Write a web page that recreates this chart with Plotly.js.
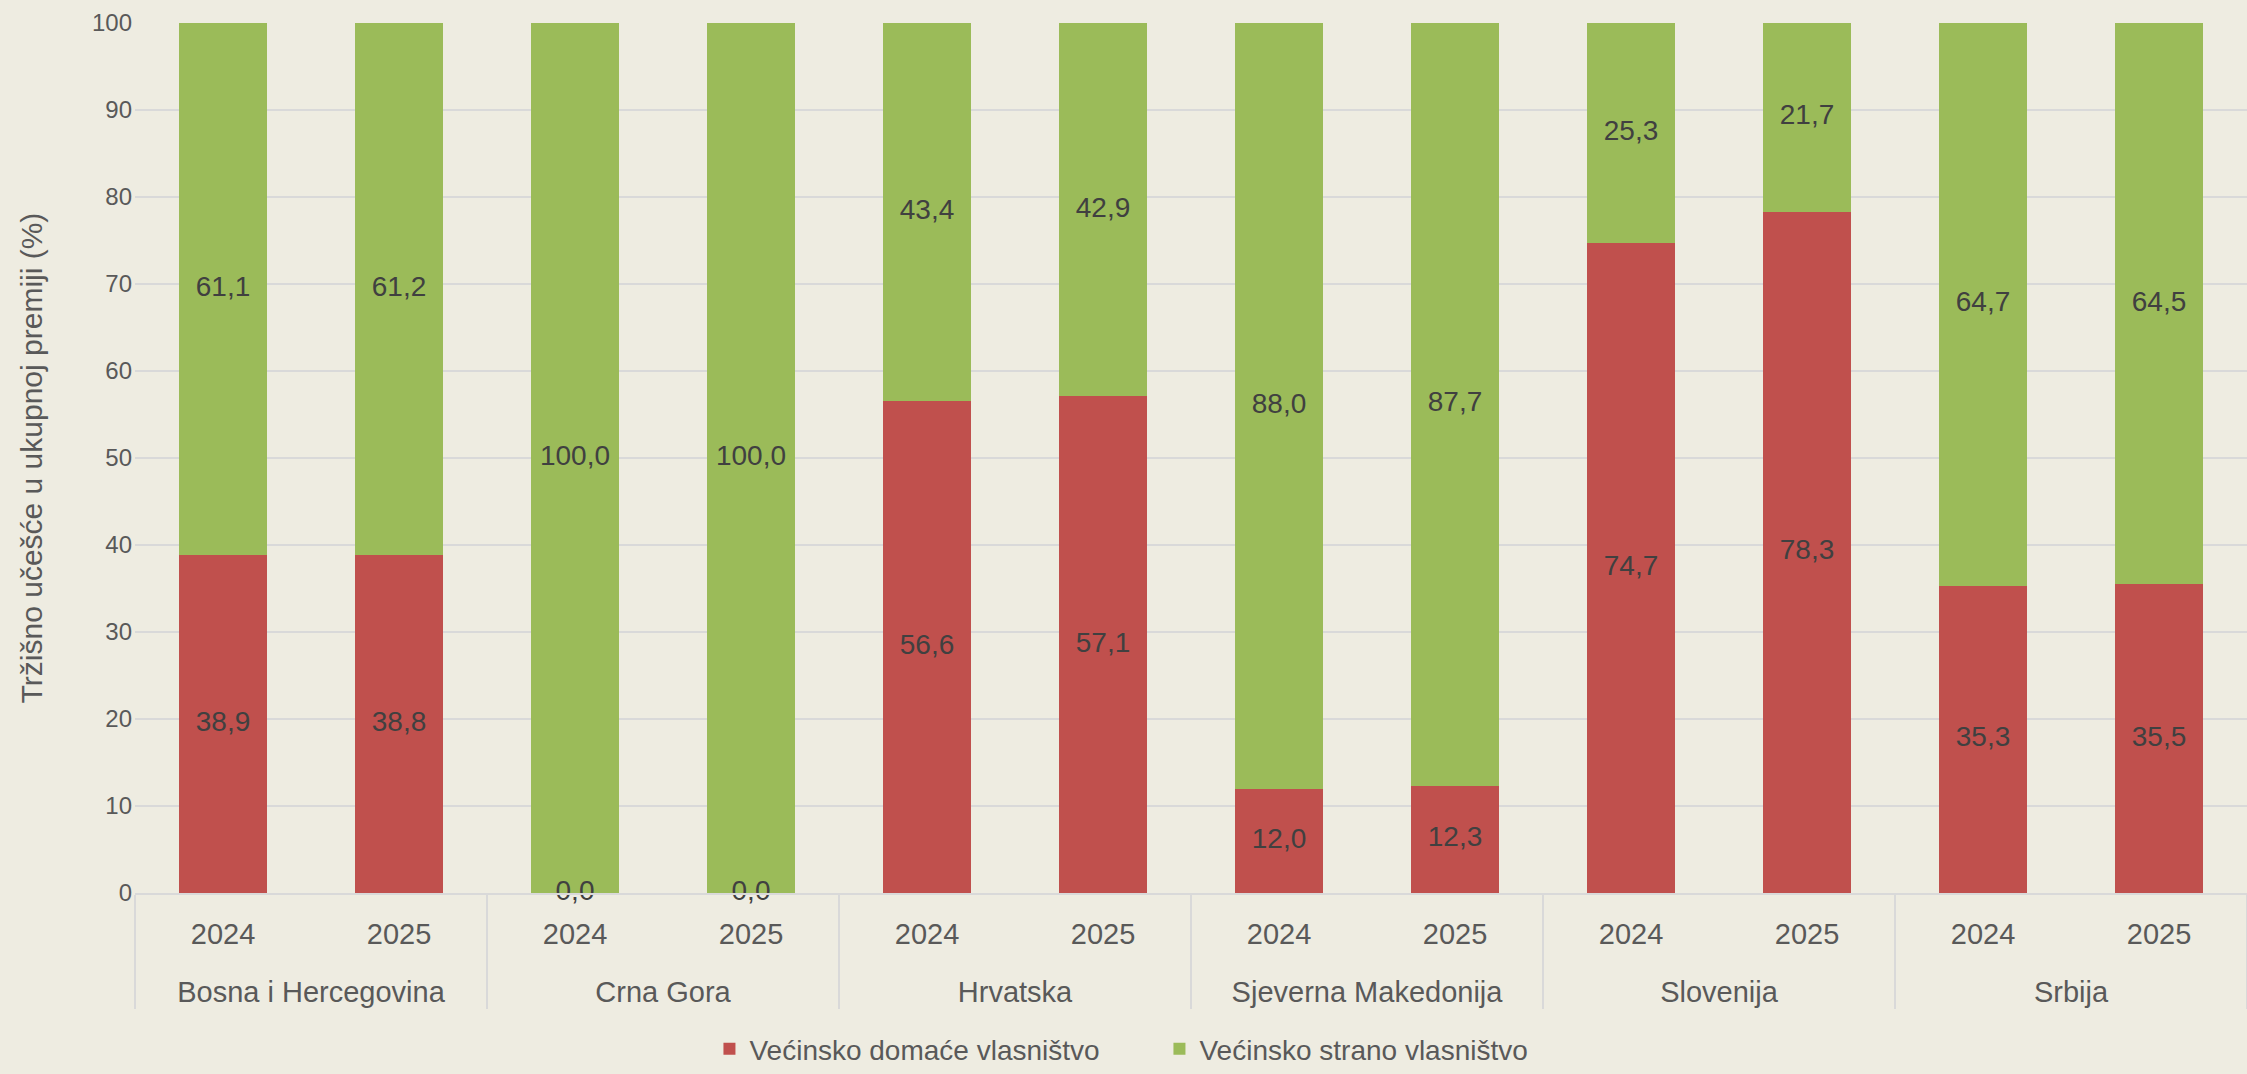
<!DOCTYPE html>
<html>
<head>
<meta charset="utf-8">
<script src="https://cdn.plot.ly/plotly-3.0.1.min.js"></script>
<style>html,body{margin:0;padding:0;background:#EEECE1;}#chart{width:2247px;height:1074px;}</style>
</head>
<body>
<div id="chart"></div>
<script>
const countries = ["Bosna i Hercegovina","Bosna i Hercegovina","Crna Gora","Crna Gora","Hrvatska","Hrvatska","Sjeverna Makedonija","Sjeverna Makedonija","Slovenija","Slovenija","Srbija","Srbija"];
const years = ["2024","2025","2024","2025","2024","2025","2024","2025","2024","2025","2024","2025"];
const domestic = [38.9, 38.8, 0.0, 0.0, 56.6, 57.1, 12.0, 12.3, 74.7, 78.3, 35.3, 35.5];
const foreign = [61.1, 61.2, 100.0, 100.0, 43.4, 42.9, 88.0, 87.7, 25.3, 21.7, 64.7, 64.5];
const seriesNames = ["Većinsko domaće vlasništvo", "Većinsko strano vlasništvo"];
const yTitle = "Tržišno učešće u ukupnoj premiji (%)";

const FONT = "'Liberation Sans Narrow', 'Liberation Sans', Arial, sans-serif";
const fmt = v => v.toFixed(1).replace('.', ',');
// second-level labels get an empty first line so they sit lower, like the original
const x = [countries.map(c => '<br>' + c), years];

const traces = [
  {type:'bar', name: seriesNames[0], x: x, y: domestic, marker:{color:'#C0504D'}, hoverinfo:'y'},
  {type:'bar', name: seriesNames[1], x: x, y: foreign, marker:{color:'#9BBB59'}, hoverinfo:'y'},
  {type:'scatter', mode:'text', x: x, y: domestic.map(v => v/2), text: domestic.map(fmt),
   textfont:{family:FONT, size:28, color:'#404040'}, showlegend:false, hoverinfo:'skip', cliponaxis:false},
  {type:'scatter', mode:'text', x: x, y: foreign.map((v,i) => domestic[i] + v/2), text: foreign.map(fmt),
   textfont:{family:FONT, size:28, color:'#404040'}, showlegend:false, hoverinfo:'skip', cliponaxis:false}
];

const layout = {
  width: 2247, height: 1074,
  paper_bgcolor: '#EEECE1', plot_bgcolor: '#EEECE1',
  font: {family: FONT, size: 28, color: '#595959'},
  barmode: 'stack', bargap: 0.5,
  margin: {l: 135, r: 0, t: 23, b: 181},
  showlegend: true,
  legend: {orientation: 'h', xref: 'container', yref: 'container', x: 0.516, xanchor: 'center', y: -0.004, yanchor: 'bottom',
           font: {family: FONT, size: 28, color: '#595959'}, traceorder: 'normal', entrywidth: 405, entrywidthmode: 'pixels'},
  xaxis: {type: 'multicategory', range: [-0.5, 11.5], automargin: false, showdividers: true, dividercolor: '#D9D9D9', dividerwidth: 2,
          showline: true, linecolor: '#D9D9D9', linewidth: 2, ticks: '', ticklabelstandoff: 14,
          showgrid: false, tickfont: {family: FONT, size: 29, color: '#595959'}},
  yaxis: {range: [0, 100], dtick: 10, automargin: false, showgrid: true, gridcolor: '#D9D9D9', gridwidth: 2,
          zeroline: false, ticks: '', ticklen: 0, ticklabelstandoff: 2, tickfont: {family: FONT, size: 24, color: '#595959'},
          title: {text: yTitle, font: {family: FONT, size: 30, color: '#595959'}, standoff: 40}}
};

Plotly.newPlot('chart', traces, layout, {displayModeBar: false, staticPlot: true});
</script>
</body>
</html>
